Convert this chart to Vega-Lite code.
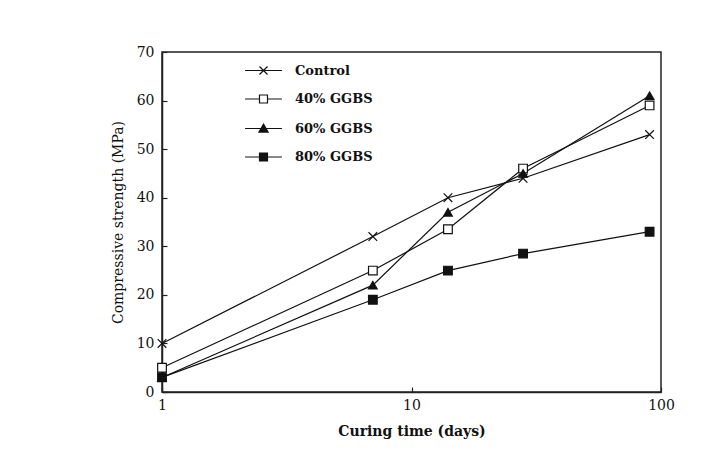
{
  "$schema": "https://vega.github.io/schema/vega-lite/v6.json",
  "autosize": {"type": "none"},
  "padding": {"left": 162, "top": 52, "right": 60, "bottom": 58},
  "width": 499,
  "height": 340,
  "background": "white",
  "config": {
    "font": "DejaVu Serif",
    "view": {"stroke": "#222", "strokeWidth": 1.5},
    "axis": {
      "domainColor": "#222", "domainWidth": 1.5, "tickColor": "#222", "tickWidth": 1.2,
      "grid": false, "labelFont": "DejaVu Serif", "labelFontSize": 14, "labelColor": "#111",
      "titleFont": "DejaVu Serif", "titleColor": "#111", "titleFontSize": 14
    }
  },
  "data": {
    "values": [
      {"series": "Control", "days": 1, "strength": 10},
      {"series": "Control", "days": 7, "strength": 32},
      {"series": "Control", "days": 14, "strength": 40},
      {"series": "Control", "days": 28, "strength": 44},
      {"series": "Control", "days": 90, "strength": 53},
      {"series": "40% GGBS", "days": 1, "strength": 5},
      {"series": "40% GGBS", "days": 7, "strength": 25},
      {"series": "40% GGBS", "days": 14, "strength": 33.5},
      {"series": "40% GGBS", "days": 28, "strength": 46},
      {"series": "40% GGBS", "days": 90, "strength": 59},
      {"series": "60% GGBS", "days": 1, "strength": 3},
      {"series": "60% GGBS", "days": 7, "strength": 22},
      {"series": "60% GGBS", "days": 14, "strength": 37},
      {"series": "60% GGBS", "days": 28, "strength": 45},
      {"series": "60% GGBS", "days": 90, "strength": 61},
      {"series": "80% GGBS", "days": 1, "strength": 3},
      {"series": "80% GGBS", "days": 7, "strength": 19},
      {"series": "80% GGBS", "days": 14, "strength": 25},
      {"series": "80% GGBS", "days": 28, "strength": 28.5},
      {"series": "80% GGBS", "days": 90, "strength": 33}
    ]
  },
  "encoding": {
    "x": {
      "field": "days", "type": "quantitative",
      "scale": {"type": "log", "domain": [1, 100], "nice": false},
      "axis": {"title": "Curing time (days)", "titleFontWeight": "bold", "values": [1, 10, 100], "format": "d",
               "tickSize": -5, "labelPadding": 11, "titlePadding": 12, "labelFlush": false}
    },
    "y": {
      "field": "strength", "type": "quantitative",
      "scale": {"domain": [0, 70], "nice": false},
      "axis": {"title": "Compressive strength (MPa)", "titleFontWeight": "normal", "values": [0, 10, 20, 30, 40, 50, 60, 70],
               "tickSize": -5, "labelPadding": 13, "titlePadding": 11}
    }
  },
  "layer": [
    {
      "mark": {"type": "line", "color": "#111", "strokeWidth": 1.2},
      "encoding": {"detail": {"field": "series"}}
    },
    {
      "mark": {"type": "point", "filled": true, "stroke": "#111", "strokeWidth": 1.2, "opacity": 1, "size": 75},
      "encoding": {
        "shape": {"field": "series", "type": "nominal", "legend": null,
          "scale": {"domain": ["Control", "40% GGBS", "60% GGBS", "80% GGBS"],
                    "range": ["M-1,-1L1,1M-1,1L1,-1", "square", "triangle-up", "square"]}},
        "fill": {"field": "series", "type": "nominal", "legend": null,
          "scale": {"domain": ["Control", "40% GGBS", "60% GGBS", "80% GGBS"],
                    "range": ["#111", "white", "#111", "#111"]}}
      }
    },
    {
      "mark": {"type": "point", "filled": true, "stroke": "#111", "strokeWidth": 1.2, "opacity": 0},
      "encoding": {
        "shape": {"field": "series", "type": "nominal",
          "scale": {"domain": ["Control", "40% GGBS", "60% GGBS", "80% GGBS"],
                    "range": ["M-4.6,0H4.6M-1,-1L1,1M-1,1L1,-1", "M-4.6,0H-1M1,0H4.6M-1,-1H1V1H-1Z", "M-4.6,0H4.6M0,-1.1L1.15,0.9H-1.15Z", "M-4.6,0H4.6M-1,-1H1V1H-1Z"]},
          "legend": {"title": null, "orient": "none", "legendX": 95, "legendY": 12, "padding": 0,
                     "symbolSize": 64, "symbolOpacity": 1, "symbolStrokeColor": "#111", "symbolStrokeWidth": 1.2,
                     "labelOffset": 25, "labelFontSize": 13, "labelFontWeight": "bold", "labelColor": "#111",
                     "labelFont": "DejaVu Serif", "rowPadding": 14.5,
                     "symbolFillColor": "#111",
                     "encode": {"symbols": {"update": {"stroke": {"value": "#111"}, "strokeWidth": {"value": 1.2}, "opacity": {"value": 1}, "strokeOpacity": {"value": 1}}}}}},
        "fill": {"field": "series", "type": "nominal",
          "scale": {"domain": ["Control", "40% GGBS", "60% GGBS", "80% GGBS"],
                    "range": ["#111", "white", "#111", "#111"]},
          "legend": {"title": null, "orient": "none", "legendX": 95, "legendY": 12, "padding": 0,
                     "symbolSize": 64, "symbolOpacity": 1, "symbolStrokeColor": "#111", "symbolStrokeWidth": 1.2,
                     "labelOffset": 25, "labelFontSize": 13, "labelFontWeight": "bold", "labelColor": "#111",
                     "labelFont": "DejaVu Serif", "rowPadding": 14.5,
                     "encode": {"symbols": {"update": {"stroke": {"value": "#111"}, "strokeWidth": {"value": 1.2}, "opacity": {"value": 1}, "strokeOpacity": {"value": 1}}}}}}
      }
    }
  ],
  "resolve": {"scale": {"shape": "independent", "fill": "independent"}, "legend": {"shape": "independent", "fill": "independent"}}
}
